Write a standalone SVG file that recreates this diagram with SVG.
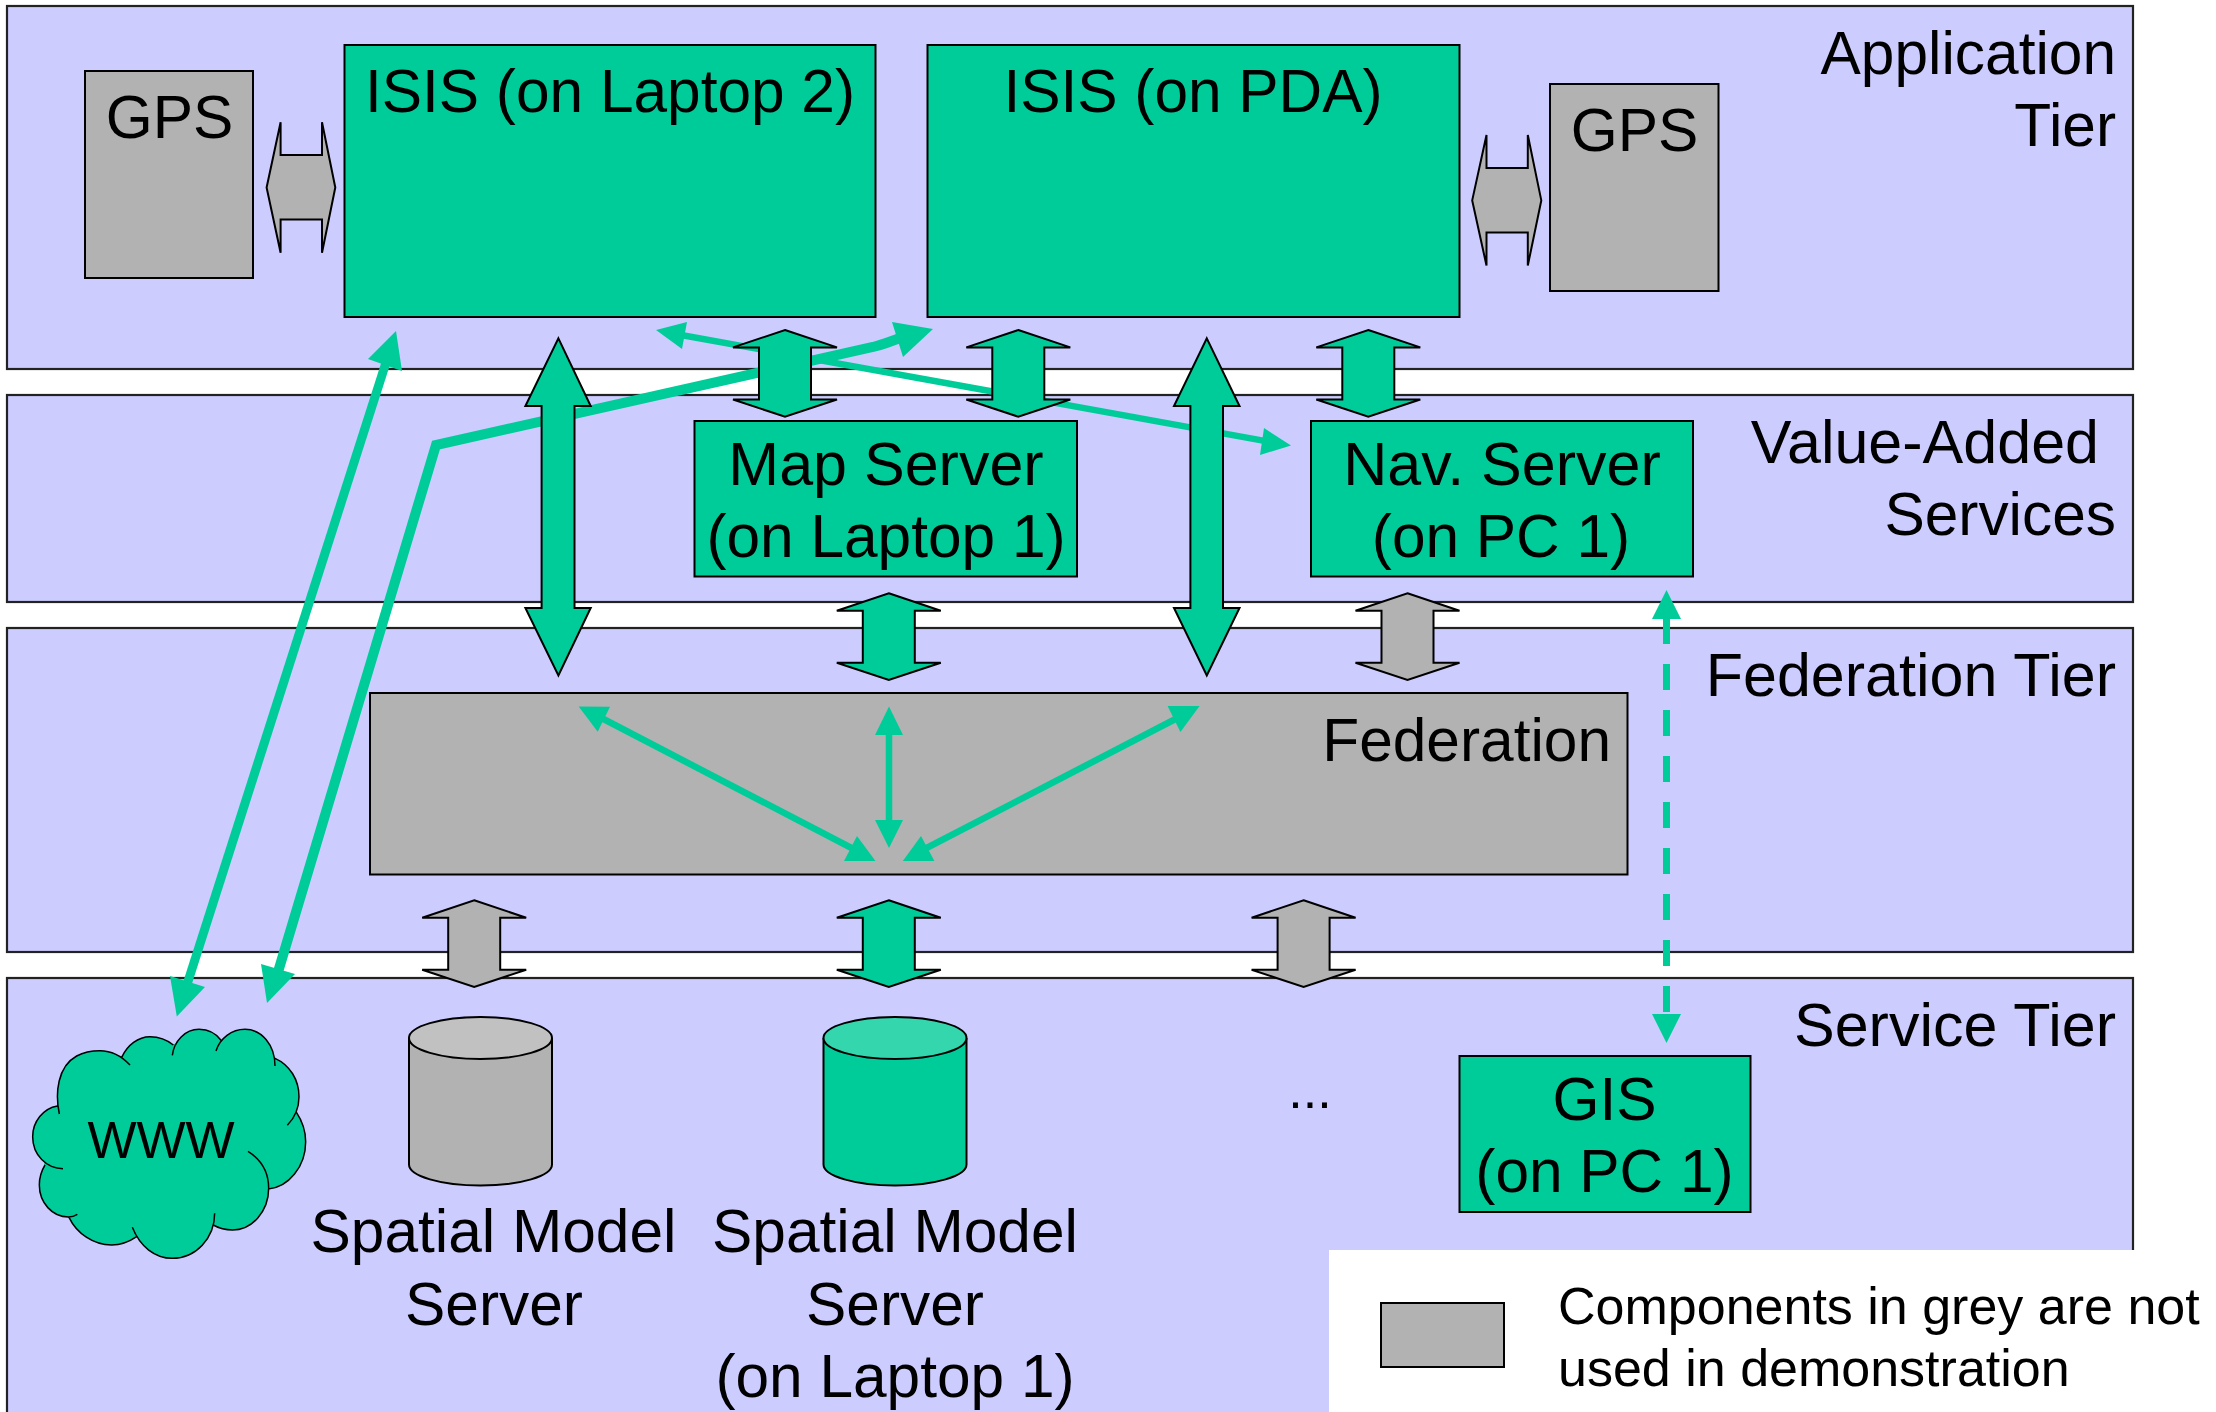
<svg xmlns="http://www.w3.org/2000/svg" xmlns:xlink="http://www.w3.org/1999/xlink" width="2216" height="1412" viewBox="0 0 2216 1412">
<style>
text{font-family:"Liberation Sans",Arial,sans-serif;font-size:60.4px;fill:#000}
.m{text-anchor:middle}.e{text-anchor:end}
.s{font-size:52px}
.w{font-size:61px}
.tier{fill:#ccf;stroke:#222;stroke-width:2.2}
.g{fill:#0c9;stroke:#000;stroke-width:2}
.y{fill:#b2b2b2;stroke:#000;stroke-width:2}
.l{fill:none;stroke:#0c9;stroke-width:9}
.b{fill:none;stroke:#0c9;stroke-width:10}
.t{fill:none;stroke:#0c9;stroke-width:6.5}
.h{fill:#0c9;stroke:none}
.cl{fill:#0c9;stroke:#000;stroke-width:4.5}
</style>
<defs>
<polygon id="dv" points="0,0 52,17.4 26,17.4 26,69.5 52,69.5 0,86.7 -52,69.5 -26,69.5 -26,17.4 -52,17.4"/>
</defs>
<rect width="2216" height="1412" fill="#fff"/>
<g id="tiers">
<rect id="tier-application" class="tier" x="7" y="6" width="2126" height="363"/>
<rect id="tier-value" class="tier" x="7" y="395" width="2126" height="207"/>
<rect id="tier-federation" class="tier" x="7" y="628" width="2126" height="324"/>
<rect id="tier-service" class="tier" x="7" y="978" width="2126" height="450"/>
<text class="e" x="2116" y="74">Application</text>
<text class="e" x="2116" y="146">Tier</text>
<text x="2099" y="463" class="e w">Value-Added</text>
<text class="e" x="2116" y="535">Services</text>
<text class="e w" x="2116" y="696">Federation Tier</text>
<text class="e w" x="2116" y="1046">Service Tier</text>
</g>
<g id="gps-1"><rect class="y" x="85" y="71" width="168" height="207"/><text class="m" x="169.500" y="138">GPS</text></g>
<g id="isis-laptop"><rect class="g" x="344.500" y="45" width="531" height="272"/><text class="m" x="610" y="112">ISIS (on Laptop 2)</text></g>
<g id="isis-pda"><rect class="g" x="927.500" y="45" width="532" height="272"/><text class="m" x="1193" y="112">ISIS (on PDA)</text></g>
<g id="gps-2"><rect class="y" x="1550" y="84" width="168.500" height="207"/><text class="m" x="1634.500" y="151">GPS</text></g>
<g id="map-server"><rect class="g" x="694.500" y="421" width="382.500" height="155.500"/><text class="m w" x="886" y="485">Map Server</text><text class="m" x="886" y="557">(on Laptop 1)</text></g>
<g id="nav-server"><rect class="g" x="1311" y="421" width="382" height="155.500"/><text class="m w" x="1502" y="485">Nav. Server</text><text class="m" x="1501" y="557">(on PC 1)</text></g>
<g id="federation"><rect class="y" x="370" y="693" width="1257.500" height="181.500"/><text class="e" x="1611" y="761">Federation</text></g>
<g id="www">
<g transform="translate(0,980) scale(0.33333)">
<polygon fill="#0c9" stroke="#0c9" stroke-width="6" stroke-linejoin="round" points="172,378 365,232 520,195 665,183 825,235 888,395 805,627 640,735 410,770 207,712 135,555"/>
<path class="cl" d="M178,402C165,340 172,260 230,228C250,217 275,212 300,212C335,212 365,228 390,255
M365,232C382,195 415,170 450,170C477,170 502,180 520,195
M517,226C522,183 556,148 597,148C626,148 650,162 665,183
M648,213C660,175 695,148 735,148C785,148 825,195 825,258
M825,235C870,255 897,300 897,350C897,385 882,415 862,436
M888,395C908,425 917,455 917,485C917,560 865,622 805,627
M744,514C785,540 806,580 806,625C806,695 755,750 698,750C677,750 657,745 640,735
M644,700C644,775 587,835 517,835C465,835 420,800 397,742
M410,770C388,785 362,795 335,795C280,795 230,760 207,712
M232,703C224,708 214,711 205,711C157,711 118,668 118,615C118,594 124,573 135,555
M189,566C140,566 98,525 98,470C98,425 130,385 172,378"/>
</g>
<text class="m s" x="161" y="1158">WWW</text>
</g>
<g id="spatial-1">
<path class="y" d="M409,1038V1164.500A71.500,21 0 0 0 552,1164.500V1038"/>
<ellipse cx="480.500" cy="1038" rx="71.500" ry="21" fill="#c1c1c1" stroke="#000" stroke-width="2"/>
<text class="m" x="493.500" y="1252">Spatial Model</text><text class="m" x="494" y="1325">Server</text>
</g>
<g id="spatial-2">
<path class="g" d="M823.500,1038V1164.500A71.500,21 0 0 0 966.500,1164.500V1038"/>
<ellipse cx="895" cy="1038" rx="71.500" ry="21" fill="#33d6ad" stroke="#000" stroke-width="2"/>
<text class="m" x="895" y="1252">Spatial Model</text><text class="m" x="895" y="1325">Server</text><text class="m" x="895" y="1397">(on Laptop 1)</text>
</g>
<g id="ellipsis"><text class="m s" x="1310" y="1108">...</text></g>
<g id="gis"><rect class="g" x="1459.500" y="1056" width="291" height="156"/><text class="m" x="1604.500" y="1120">GIS</text><text class="m" x="1604.500" y="1192">(on PC 1)</text></g>
<g id="legend"><rect x="1329" y="1250" width="887" height="162" fill="#fff"/><rect class="y" x="1381" y="1303" width="123" height="64"/><text class="s" x="1558" y="1324">Components in grey are not</text><text class="s" x="1558" y="1386">used in demonstration</text></g>
<g id="connectors">
<g id="line-connectors">
<path class="l" d="M390,350L183,997"/>
<polygon class="h" points="396,331 368,359 402,371"/>
<polygon class="h" points="176.800,1016.500 170,976 205,987"/>
<path class="b" d="M278,972L436,445L873,347Q885,344 905,336"/>
<polygon class="h" points="892,322 933,329 903,357"/>
<polygon class="h" points="267,1003 261,964 295,974"/>
<path class="t" d="M670,333L1276,443"/>
<polygon class="h" points="656,330 687,322 682,349"/>
<polygon class="h" points="1291,445.500 1264,428 1260,455"/>
<path class="t" d="M590,712L865,855M913,855L1189,712M889,725V830"/>
<polygon class="h" points="578.700,706.400 610,706.800 597.700,731.800"/>
<polygon class="h" points="875.500,861 844,861 857,836"/>
<polygon class="h" points="902.800,861 934.400,861 921,836"/>
<polygon class="h" points="1199.600,706 1167.600,706 1180.400,732"/>
<polygon class="h" points="889,706.400 875,735 903,735"/>
<polygon class="h" points="889,848 875,820 903,820"/>
<path class="t" d="M1666.500,618V1016" stroke-dasharray="26 20" style="stroke-width:7"/>
<polygon class="h" points="1666.500,590 1652,619 1681,619"/>
<polygon class="h" points="1666.500,1043 1652,1014 1681,1014"/>
</g>
<g id="block-connectors">
<polygon class="y" points="266.600,187.500 280.600,122.300 280.600,155 322,155 322,122.300 335.300,187.500 322,252.700 322,219.600 280.600,219.600 280.600,252.700"/>
<polygon class="y" points="1472.200,200.400 1486.500,135 1486.500,168 1527.800,168 1527.800,135 1541.300,200.400 1527.800,265.600 1527.800,232.600 1486.500,232.600 1486.500,265.600"/>
<use href="#dv" class="g" x="785" y="330"/>
<use href="#dv" class="g" x="1018.300" y="330"/>
<use href="#dv" class="g" x="1368.300" y="330"/>
<use href="#dv" class="g" x="888.800" y="593.300"/>
<use href="#dv" class="y" x="1407.500" y="593.300"/>
<use href="#dv" class="y" x="474.200" y="900.300"/>
<use href="#dv" class="g" x="888.800" y="900.300"/>
<use href="#dv" class="y" x="1303.600" y="900.300"/>
<polygon class="g" points="558.400,338.400 590.700,406 574.500,406 574.500,608 590.700,608 558.400,675.400 525.400,608 541.600,608 541.600,406 525.400,406"/>
<polygon class="g" points="1206.800,338.400 1239.500,406 1223,406 1223,608 1239.500,608 1206.800,675.400 1174,608 1190.400,608 1190.400,406 1174,406"/>
</g>
</g>
</svg>
